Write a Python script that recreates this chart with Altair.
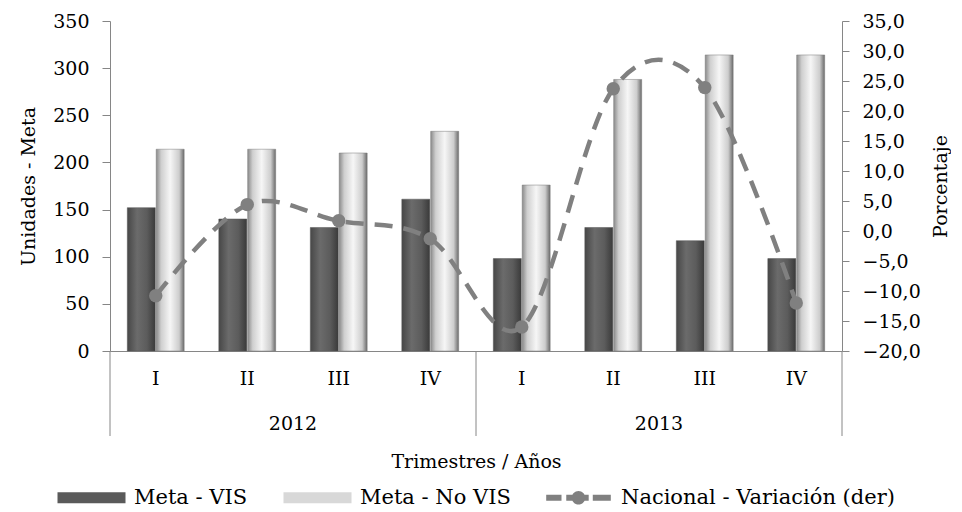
import altair as alt
import pandas as pd

# ---- data ----
keys = ["2012-I", "2012-II", "2012-III", "2012-IV", "2013-I", "2013-II", "2013-III", "2013-IV"]
meta_vis = [152, 140, 131, 161, 98, 131, 117, 98]
meta_novis = [214, 214, 210, 233, 176, 288, 314, 314]
variacion = [-10.8, 4.4, 1.7, -1.3, -16.0, 23.7, 23.9, -12.0]
years = ["2012", "2013"]
year_anchor = ["2012-II", "2013-II"]
series = ["Meta - VIS", "Meta - No VIS", "Nacional - Variación (der)"]

FONT = "DejaVu Serif"
FS = 19
W, H = 732, 330
GREY = "#868686"

df_bars = pd.DataFrame({
    "key": keys * 2,
    "serie": [series[0]] * 8 + [series[1]] * 8,
    "value": meta_vis + meta_novis,
})
df_line = pd.DataFrame({"key": keys, "var": variacion, "serie": series[2]})
df_years = pd.DataFrame({"key": year_anchor, "year": years})
df_sep_start = pd.DataFrame({"key": ["2012-I", "2013-I"]})
df_sep_end = pd.DataFrame({"key": ["2013-IV"]})

xscale = alt.Scale(domain=keys, paddingInner=0, paddingOuter=0)
xaxis = alt.Axis(
    title="Trimestres / Años", labelExpr="split(datum.value, '-')[1]", ticks=False,
    labelPadding=18, titlePadding=64, labelAngle=0, domainColor=GREY,
)
x_enc = alt.X("key:N", scale=xscale, axis=xaxis)
xoff = alt.XOffset("serie:N", scale=alt.Scale(domain=series[:2], paddingInner=0.03, paddingOuter=0.6))

y_left = alt.Y(
    "value:Q",
    scale=alt.Scale(domain=[0, 350], nice=False),
    axis=alt.Axis(title="Unidades - Meta", values=list(range(0, 351, 50)), tickSize=8,
                  labelPadding=13, titlePadding=14, grid=False),
)
y_right = alt.Y(
    "var:Q",
    scale=alt.Scale(domain=[-20, 35], nice=False),
    axis=alt.Axis(title="Porcentaje", orient="right", values=list(range(-20, 36, 5)),
                  labelExpr="replace(format(datum.value, '.1f'), '.', ',')", tickSize=7,
                  labelPadding=13, titlePadding=30, grid=False, labelAlign="left",
                  titleAngle=270),
)

vis_grad = alt.LinearGradient(
    gradient="linear", x1=0, x2=1, y1=0, y2=0,
    stops=[alt.GradientStop(offset=0, color="#474747"),
           alt.GradientStop(offset=0.35, color="#6b6b6b"),
           alt.GradientStop(offset=0.7, color="#5c5c5c"),
           alt.GradientStop(offset=1, color="#3a3a3a")],
)
novis_grad = alt.LinearGradient(
    gradient="linear", x1=0, x2=1, y1=0, y2=0,
    stops=[alt.GradientStop(offset=0, color="#8a8a8a"),
           alt.GradientStop(offset=0.18, color="#cfcfcf"),
           alt.GradientStop(offset=0.5, color="#f6f6f6"),
           alt.GradientStop(offset=0.82, color="#cdcdcd"),
           alt.GradientStop(offset=1, color="#6a6a6a")],
)

bars_vis = alt.Chart(df_bars).transform_filter(
    alt.datum.serie == series[0]
).mark_bar(color=vis_grad, stroke="#555555", strokeWidth=0.5).encode(
    x=x_enc, xOffset=xoff, y=y_left
)
bars_novis = alt.Chart(df_bars).transform_filter(
    alt.datum.serie == series[1]
).mark_bar(color=novis_grad, stroke="#7a7a7a", strokeWidth=0.5).encode(
    x=x_enc, xOffset=xoff, y=y_left
)

year_text = alt.Chart(df_years).mark_text(font=FONT, fontSize=FS, baseline="middle", color="black").encode(
    x=alt.X("key:N", scale=xscale, bandPosition=1), y=alt.value(H + 73), text="year:N"
)
sep1 = alt.Chart(df_sep_start).mark_rule(color=GREY, strokeWidth=1).encode(
    x=alt.X("key:N", scale=xscale, bandPosition=0), y=alt.value(H), y2=alt.value(H + 85)
)
sep2 = alt.Chart(df_sep_end).mark_rule(color=GREY, strokeWidth=1).encode(
    x=alt.X("key:N", scale=xscale, bandPosition=1), y=alt.value(H), y2=alt.value(H + 85)
)

left = alt.layer(bars_vis, bars_novis, year_text, sep1, sep2)

line = alt.Chart(df_line).mark_line(
    color="#808080", strokeWidth=4.5, strokeDash=[18, 11], interpolate="cardinal"
).encode(x=x_enc, y=y_right)
pts = alt.Chart(df_line).mark_circle(color="#808080", size=180, opacity=1).encode(x=x_enc, y=y_right)

rect_path = "M-1,-0.16H1V0.16H-1Z"
line_path = ("M-0.95,-0.09H-0.5V0.09H-0.95Z M-0.36,-0.09H0.3V0.09H-0.36Z M0.42,-0.09H0.95V0.09H0.42Z "
             "M0.2,0A0.2,0.2 0 1,1 -0.2,0A0.2,0.2 0 1,1 0.2,0Z")
leg = alt.Legend(
    title=None, orient="none", legendX=-53, legendY=442, direction="horizontal",
    labelFont=FONT, labelFontSize=21, labelColor="black", symbolSize=4624,
    symbolStrokeColor="#7f7f7f", symbolStrokeWidth=1, symbolOpacity=1,
    labelOffset=8, columnPadding=33, labelLimit=500, labelBaseline="middle",
)
hidden = alt.Chart(df_line).transform_filter("false").mark_point(
    filled=True, stroke="#7f7f7f", strokeWidth=1
).encode(
    x=x_enc, y=y_right,
    color=alt.Color("serie:N", scale=alt.Scale(domain=series, range=["#5a5a5a", "#d8d8d8", "#808080"]), legend=leg),
    shape=alt.Shape("serie:N", scale=alt.Scale(domain=series, range=[rect_path, rect_path, line_path]), legend=leg),
)

right = alt.layer(line, pts, hidden)

chart = alt.layer(left, right).resolve_scale(y="independent").properties(
    width=W, height=H, padding={"top": 4, "left": 11, "right": 0, "bottom": 0}
).configure_view(stroke=None).configure_axis(
    labelFont=FONT, labelFontSize=FS, labelColor="black", titleFont=FONT, titleFontSize=FS,
    titleFontWeight="normal", titleColor="black", domainColor=GREY, tickColor=GREY, grid=False,
)

chart.save("out.html", embed_options={"renderer": "svg", "actions": False})
